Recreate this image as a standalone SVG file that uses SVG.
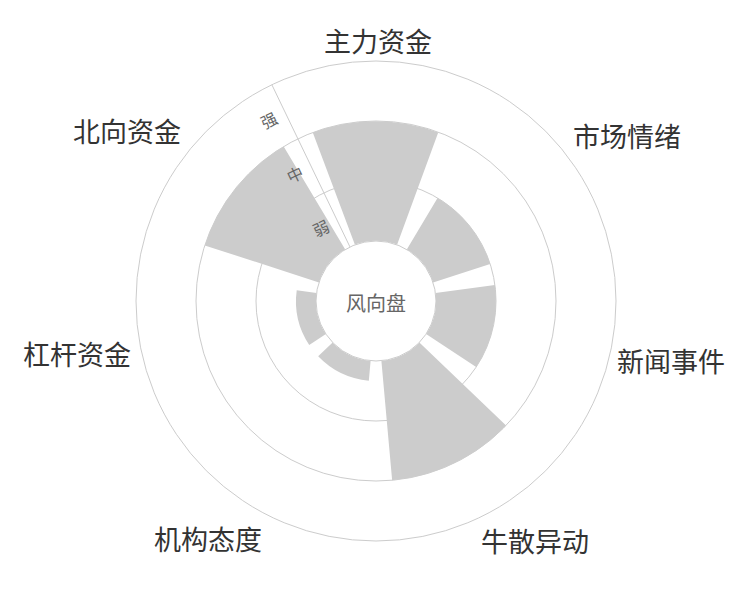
<svg xmlns="http://www.w3.org/2000/svg" width="750" height="600" viewBox="0 0 750 600">
<style>
.grid{fill:none;stroke:#cccccc;stroke-width:1}
.bar{fill:#cccccc}
.cat{font-family:"Noto Sans CJK SC","Noto Sans",sans-serif;font-size:27px;fill:#333333;text-anchor:middle;dominant-baseline:central}
.ax{font-family:"Noto Sans CJK SC",sans-serif;font-size:16px;fill:#666666;text-anchor:middle;dominant-baseline:central}
</style>
<rect width="750" height="600" fill="#ffffff"/>
<g id="grid">
<circle class="grid" cx="376" cy="301" r="120"/>
<circle class="grid" cx="376" cy="301" r="180"/>
<circle class="grid" cx="376" cy="301" r="240"/>
</g>
<g id="bars">
<path id="bar-zhuli" class="bar" d="M312.77 132.47 A180 180 0 0 1 438.23 132.47 L397.08 244.82 A60 60 0 0 0 354.92 244.82 Z"/>
<path id="bar-shichang" class="bar" d="M437.55 197.99 A120 120 0 0 1 490.13 263.92 L433.07 282.46 A60 60 0 0 0 406.77 249.5 Z"/>
<path id="bar-xinwen" class="bar" d="M494.92 284.91 A120 120 0 0 1 476.15 367.11 L426.08 334.05 A60 60 0 0 0 435.46 292.95 Z"/>
<path id="bar-niusan" class="bar" d="M506.09 425.42 A180 180 0 0 1 392.13 480.28 L381.38 360.76 A60 60 0 0 0 419.36 342.47 Z"/>
<path id="bar-jigou" class="bar" d="M368.83 380.68 A80 80 0 0 1 318.18 356.3 L332.64 342.47 A60 60 0 0 0 370.62 360.76 Z"/>
<path id="bar-ganggan" class="bar" d="M309.23 345.07 A80 80 0 0 1 296.72 290.27 L316.54 292.95 A60 60 0 0 0 325.92 334.05 Z"/>
<path id="bar-beixiang" class="bar" d="M204.8 245.38 A180 180 0 0 1 283.68 146.49 L345.23 249.5 A60 60 0 0 0 318.93 282.46 Z"/>
</g>
<g id="axis">
<line x1="349.97" y1="246.94" x2="271.86" y2="84.76" stroke="#cccccc" stroke-width="1"/>
<text class="ax" transform="translate(320.7 227.7) rotate(-25.71)">弱</text>
<text class="ax" transform="translate(294.7 173.7) rotate(-25.71)">中</text>
<text class="ax" transform="translate(268.7 119.6) rotate(-25.71)">强</text>
</g>
<g id="center">
<circle cx="376" cy="301" r="60" fill="#ffffff" stroke="#cccccc" stroke-width="1"/>
<text x="376" y="302" font-family="Noto Sans CJK SC,sans-serif" font-size="20" fill="#666666" text-anchor="middle" dominant-baseline="central">风向盘</text>
</g>
<g id="labels">
<text class="cat" x="378" y="40">主力资金</text>
<text class="cat" x="627" y="135">市场情绪</text>
<text class="cat" x="671" y="360">新闻事件</text>
<text class="cat" x="535" y="540">牛散异动</text>
<text class="cat" x="208" y="538">机构态度</text>
<text class="cat" x="77" y="353">杠杆资金</text>
<text class="cat" x="127" y="130">北向资金</text>
</g>
</svg>
